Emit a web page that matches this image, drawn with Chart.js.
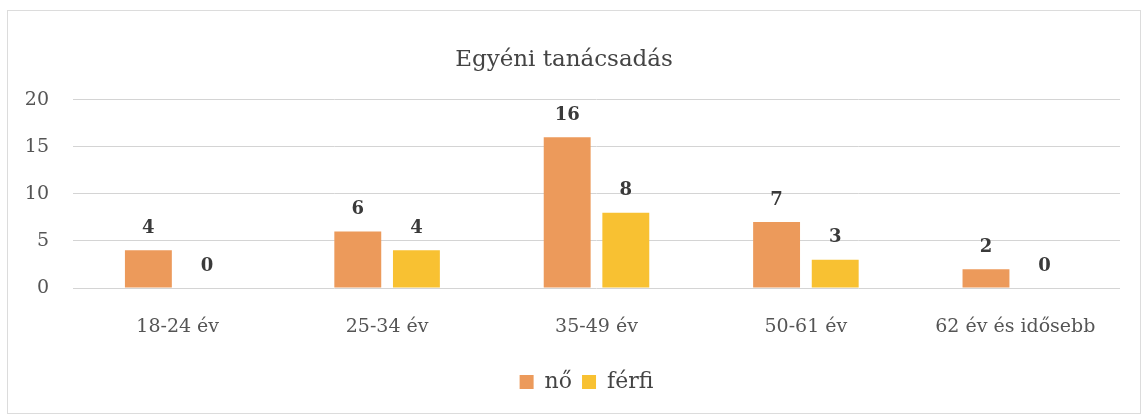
<!DOCTYPE html>
<html>
<head>
<meta charset="utf-8">
<script src="https://cdn.jsdelivr.net/npm/chart.js@4"></script>
<style>
  html, body { margin: 0; padding: 0; background: #fff; }
  #wrap {
    position: absolute; left: 7px; top: 10px;
    width: 1132px; height: 402px;
    border: 1px solid #dcdcdc;
  }
</style>
</head>
<body>
<div id="wrap"><canvas id="chart"></canvas></div>
<script>
const categories = ['18-24 év', '25-34 év', '35-49 év', '50-61 év', '62 év és idősebb'];
const noValues = [4, 6, 16, 7, 2];
const ferfiValues = [0, 4, 8, 3, 0];
const yTicks = [0, 5, 10, 15, 20];

const serif = '"DejaVu Serif", "Liberation Serif", serif';

// values drawn above each bar
const valueLabels = {
  id: 'valueLabels',
  afterDatasetsDraw(chart) {
    const ctx = chart.ctx;
    ctx.save();
    ctx.font = 'bold 18px ' + serif;
    ctx.fillStyle = '#3a3a3a';
    ctx.textAlign = 'center';
    ctx.textBaseline = 'middle';
    chart.data.datasets.forEach((ds, i) => {
      chart.getDatasetMeta(i).data.forEach((bar, j) => {
        ctx.fillText(ds.data[j], bar.x, bar.y - 22);
      });
    });
    ctx.restore();
  }
};

// legend sits centred under the plot area, not the whole canvas
const legendShift = {
  id: 'legendShift',
  afterLayout(chart) {
    const shift = (chart.chartArea.left + chart.chartArea.right) / 2 - chart.width / 2;
    chart.legend.left += shift;
    chart.legend.right += shift;
  }
};

new Chart(document.getElementById('chart').getContext('2d'), {
  type: 'bar',
  data: {
    labels: categories,
    datasets: [
      { label: 'nő', data: noValues, backgroundColor: '#ec9a5b',
        categoryPercentage: 0.56, barPercentage: 0.8 },
      { label: 'férfi', data: ferfiValues, backgroundColor: '#f8c132',
        categoryPercentage: 0.56, barPercentage: 0.8 }
    ]
  },
  options: {
    responsive: true,
    maintainAspectRatio: false,
    animation: false,
    layout: { padding: { left: 0, right: 20, top: 0, bottom: 10 } },
    plugins: {
      title: {
        display: true,
        text: 'Egyéni tanácsadás',
        color: '#444',
        font: { family: serif, size: 23, weight: 'normal' },
        padding: { top: 35, bottom: 26 }
      },
      legend: {
        position: 'bottom',
        labels: {
          color: '#444',
          font: { family: serif, size: 22 },
          boxWidth: 14, boxHeight: 14, padding: 10
        }
      },
      tooltip: { enabled: false }
    },
    scales: {
      x: {
        grid: { display: false },
        border: { display: false },
        ticks: { color: '#555', font: { family: serif, size: 19 }, padding: 20 },
        afterFit(scale) { scale.height = 73; }
      },
      y: {
        min: 0, max: 20,
        afterBuildTicks(scale) { scale.ticks = yTicks.map(v => ({ value: v })); },
        grid: { color: '#d4d4d4', drawTicks: false },
        border: { display: false },
        ticks: { color: '#555', font: { family: serif, size: 19 }, padding: 24 },
        afterFit(scale) { scale.width = 65; }
      }
    }
  },
  plugins: [valueLabels, legendShift]
});
</script>
</body>
</html>
